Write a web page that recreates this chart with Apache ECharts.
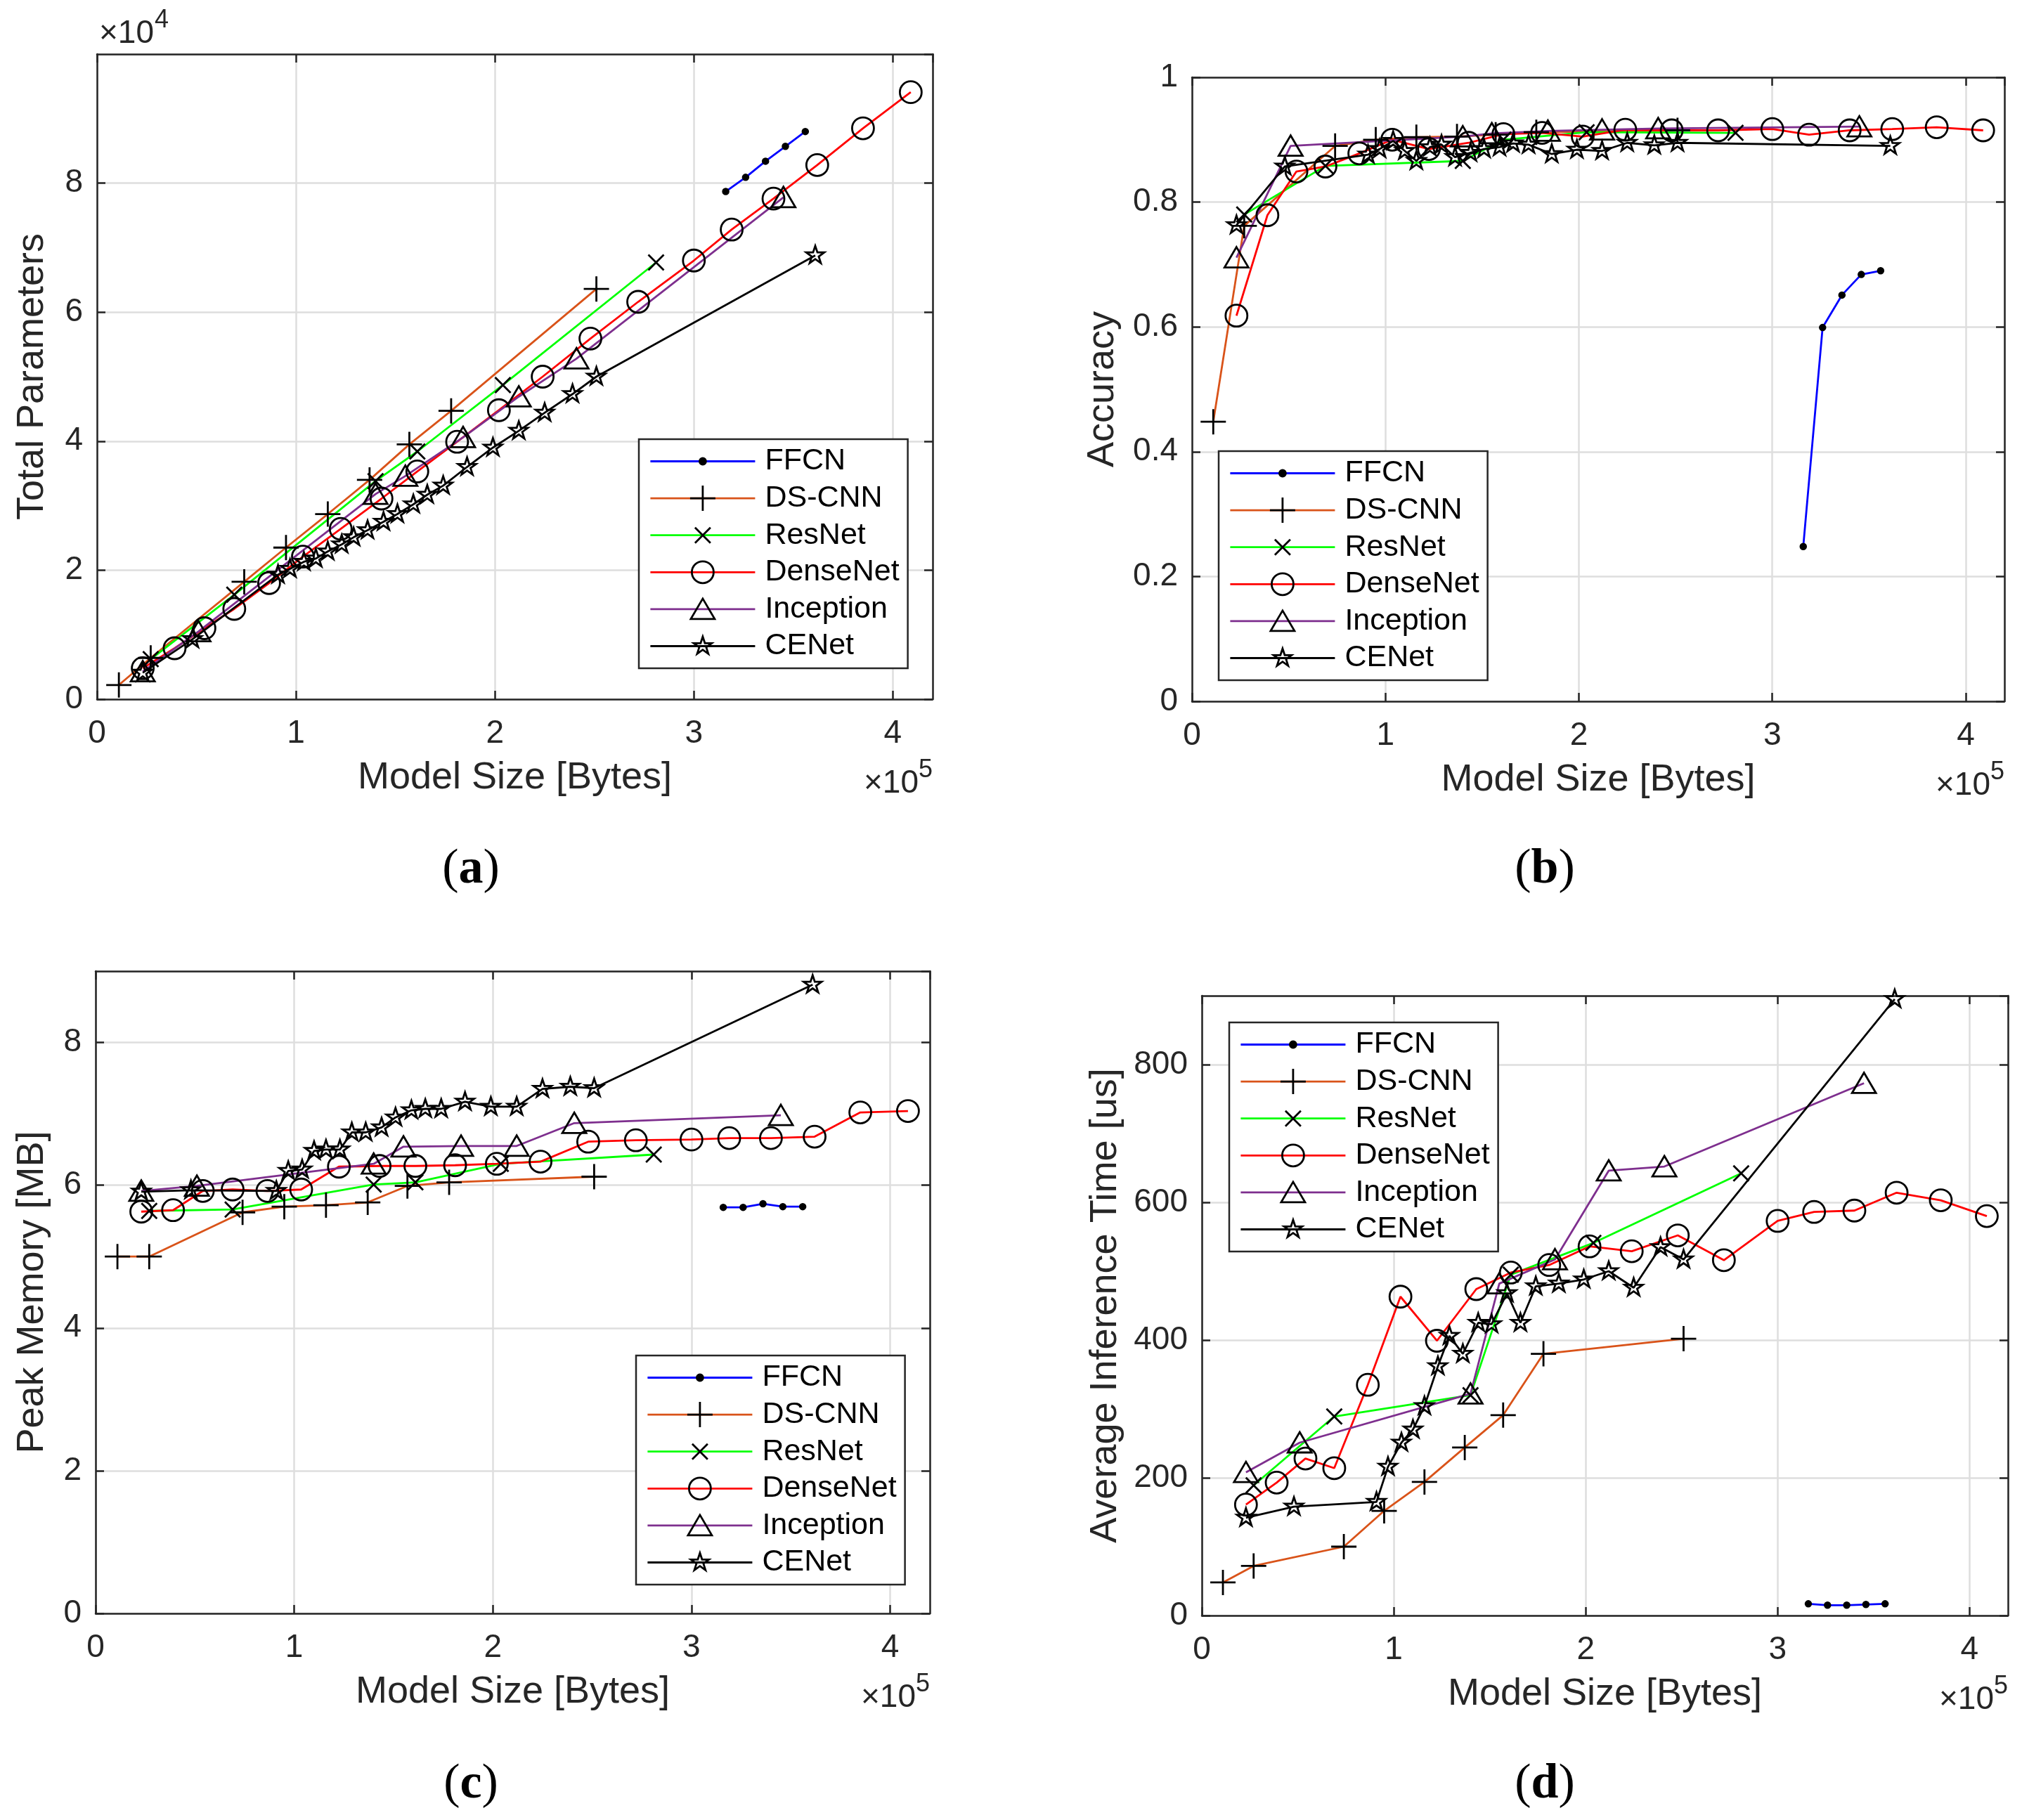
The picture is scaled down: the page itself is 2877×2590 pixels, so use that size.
<!DOCTYPE html>
<html lang="en">
<head>
<meta charset="UTF-8">
<title>Model size vs. parameters, accuracy, memory, time</title>
<style>
    html, body { margin: 0; padding: 0; background: #fff; }
    #chart { width: 2877px; height: 2590px; }
</style>
</head>
<body>
<div id="chart"></div>
<script src="https://cdn.jsdelivr.net/npm/echarts@6/dist/echarts.min.js"></script>
<script>
// model size, x 1e5 bytes (shared by all four panels)
var ffcnSize      = [3.16, 3.26, 3.36, 3.46, 3.56];
var dscnnSize     = [0.11, 0.27, 0.74, 0.95, 1.16, 1.37, 1.57, 1.78, 2.51];
var resnetSize    = [0.27, 0.69, 1.40, 1.61, 2.04, 2.81];
var densenetSize  = [0.23, 0.39, 0.54, 0.69, 0.865, 1.035, 1.225, 1.43, 1.61, 1.81, 2.02, 2.24, 2.48, 2.72, 3.00, 3.19, 3.40, 3.62, 3.85, 4.09];
var inceptionSize = [0.23, 0.51, 1.40, 1.55, 1.84, 2.12, 2.41, 3.45];
var cenetSize     = [0.23, 0.48, 0.91, 0.97, 1.04, 1.10, 1.16, 1.23, 1.29, 1.36, 1.44, 1.51, 1.59, 1.66, 1.74, 1.86, 1.99, 2.12, 2.25, 2.39, 2.51, 3.61];

// (a) total parameters, x 1e4
var ffcnParams      = [7.87, 8.09, 8.34, 8.57, 8.80];
var dscnnParams     = [0.22, 0.64, 1.82, 2.35, 2.87, 3.40, 3.95, 4.47, 6.36];
var resnetParams    = [0.62, 1.62, 3.38, 3.84, 4.87, 6.77];
var densenetParams  = [0.48, 0.79, 1.10, 1.40, 1.80, 2.21, 2.64, 3.11, 3.53, 3.99, 4.48, 5.00, 5.59, 6.16, 6.80, 7.28, 7.76, 8.28, 8.85, 9.41];
var inceptionParams = [0.43, 1.05, 3.18, 3.46, 4.06, 4.69, 5.28, 7.78];
var cenetParams     = [0.41, 0.93, 1.93, 2.02, 2.13, 2.18, 2.29, 2.40, 2.51, 2.62, 2.75, 2.87, 3.02, 3.17, 3.31, 3.60, 3.90, 4.16, 4.44, 4.73, 5.00, 6.88];

// (b) accuracy
var ffcnAcc      = [0.248, 0.599, 0.651, 0.684, 0.690];
var dscnnAcc     = [0.448, 0.762, 0.890, 0.900, 0.904, 0.905, 0.908, 0.912, 0.915];
var resnetAcc    = [0.780, 0.858, 0.866, 0.900, 0.912, 0.911];
var densenetAcc  = [0.618, 0.779, 0.849, 0.857, 0.878, 0.900, 0.885, 0.895, 0.909, 0.911, 0.905, 0.916, 0.915, 0.915, 0.917, 0.908, 0.915, 0.917, 0.920, 0.915];
var inceptionAcc = [0.711, 0.890, 0.905, 0.910, 0.914, 0.916, 0.918, 0.921];
var cenetAcc     = [0.763, 0.857, 0.876, 0.885, 0.898, 0.882, 0.866, 0.888, 0.892, 0.872, 0.879, 0.885, 0.888, 0.894, 0.892, 0.877, 0.884, 0.882, 0.895, 0.891, 0.895, 0.890];

// (c) peak memory, MB
var ffcnMem      = [5.69, 5.69, 5.74, 5.70, 5.70];
var dscnnMem     = [5.00, 5.00, 5.62, 5.70, 5.72, 5.76, 5.99, 6.04, 6.12];
var resnetMem    = [5.64, 5.66, 6.01, 6.04, 6.30, 6.43];
var densenetMem  = [5.63, 5.65, 5.92, 5.94, 5.92, 5.94, 6.26, 6.27, 6.27, 6.28, 6.30, 6.33, 6.61, 6.63, 6.64, 6.66, 6.66, 6.68, 7.02, 7.04];
var inceptionMem = [5.92, 5.99, 6.30, 6.54, 6.55, 6.55, 6.87, 6.98];
var cenetMem     = [5.91, 5.93, 5.92, 6.20, 6.22, 6.48, 6.50, 6.50, 6.74, 6.74, 6.81, 6.95, 7.05, 7.07, 7.07, 7.17, 7.10, 7.10, 7.35, 7.38, 7.36, 8.81];

// (d) average inference time, us
var ffcnTime      = [17, 15, 15, 16, 17];
var dscnnTime     = [48, 72, 100, 152, 194, 244, 291, 380, 402];
var resnetTime    = [189, 289, 320, 495, 541, 642];
var densenetTime  = [161, 193, 228, 214, 335, 463, 399, 474, 498, 509, 536, 529, 552, 516, 573, 586, 588, 614, 603, 580];
var inceptionTime = [208, 251, 322, 482, 517, 646, 652, 773];
var cenetTime     = [142, 158, 165, 216, 251, 270, 304, 362, 406, 380, 425, 423, 468, 425, 478, 482, 488, 500, 476, 535, 517, 895];

var xTicks = { min: 0, max: 4.2, step: 1 };
</script>
<script>
var FONT = "'Liberation Sans', Arial, sans-serif";
var SERIF = "'Liberation Serif', 'DejaVu Serif', serif";
var INK = '#262626';
var GRID = '#dedede';

// marker shapes, all drawn inside the same 36x36 frame so one symbolSize fits all
var FRAME = 'M-18,-18 M18,18 ';
function ring(r) {
    return 'M' + r + ',0 A' + r + ',' + r + ' 0 1,1 -' + r + ',0 A' + r + ',' + r + ' 0 1,1 ' + r + ',0 Z';
}
function star(R, r) {
    var d = [];
    for (var k = 0; k < 10; k++) {
        var rad = k % 2 ? r : R;
        var a = -Math.PI / 2 + k * Math.PI / 5;
        d.push((k ? 'L' : 'M') + (rad * Math.cos(a)).toFixed(2) + ',' + (rad * Math.sin(a)).toFixed(2));
    }
    return d.join(' ') + ' Z';
}
var dotSymbol = 'path://' + FRAME + ring(4.5);
var plusSymbol = 'path://' + FRAME + 'M-18,0 L18,0 M0,-18 L0,18';
var crossSymbol = 'path://' + FRAME + 'M-11,-11 L11,11 M-11,11 L11,-11';
var circleSymbol = 'path://' + FRAME + ring(15.5);
var triangleSymbol = 'path://' + FRAME + 'M0,-15 L17,14 L-17,14 Z';
var starSymbol = 'path://' + FRAME + star(13.5, 5.2);

var models = [
    {name: 'FFCN', color: '#0000ff', symbol: dotSymbol, fill: '#000', size: ffcnSize,
        values: [ffcnParams, ffcnAcc, ffcnMem, ffcnTime]},
    {name: 'DS-CNN', color: '#d95319', symbol: plusSymbol, size: dscnnSize,
        values: [dscnnParams, dscnnAcc, dscnnMem, dscnnTime]},
    {name: 'ResNet', color: '#00ff00', symbol: crossSymbol, size: resnetSize,
        values: [resnetParams, resnetAcc, resnetMem, resnetTime]},
    {name: 'DenseNet', color: '#ff0000', symbol: circleSymbol, size: densenetSize,
        values: [densenetParams, densenetAcc, densenetMem, densenetTime]},
    {name: 'Inception', color: '#7e2f8e', symbol: triangleSymbol, size: inceptionSize,
        values: [inceptionParams, inceptionAcc, inceptionMem, inceptionTime]},
    {name: 'CENet', color: '#000000', symbol: starSymbol, size: cenetSize,
        values: [cenetParams, cenetAcc, cenetMem, cenetTime]}
];

var panels = [
    {left: 138, top: 77, width: 1189, height: 918, yMax: 10, yStep: 2, yName: 'Total Parameters',
        yGap: 65, yExp: '4', legend: [909, 625], caption: 'a', capPos: [670, 1238]},
    {left: 1696, top: 110, width: 1156, height: 888, yMax: 1, yStep: 0.2, yName: 'Accuracy',
        yGap: 100, yExp: null, legend: [1734, 642], caption: 'b', capPos: [2198, 1238]},
    {left: 136, top: 1382, width: 1187, height: 914, yMax: 9, yStep: 2, yName: 'Peak Memory [MB]',
        yGap: 63, yExp: null, legend: [905, 1929], caption: 'c', capPos: [670, 2540]},
    {left: 1710, top: 1417, width: 1147, height: 882, yMax: 900, yStep: 200, yName: 'Average Inference Time [us]',
        yGap: 110, yExp: null, legend: [1749, 1455], caption: 'd', capPos: [2198, 2540]}
];

var measureCtx = document.createElement('canvas').getContext('2d');
function textWidth(str, size) {
    measureCtx.font = size + 'px ' + FONT;
    return measureCtx.measureText(str).width;
}

function zip(xs, ys) {
    return xs.map(function (x, i) { return [x, ys[i]]; });
}

function axisCommon(main) {
    return {
        type: 'value',
        axisLine: {show: true, onZero: false, lineStyle: {color: INK, width: 2.5}},
        axisTick: {show: true, inside: true, length: 12, lineStyle: {color: INK, width: 2.5}},
        axisLabel: {show: main, fontSize: 46, color: INK, fontFamily: FONT, showMaxLabel: false},
        splitLine: {show: main, lineStyle: {color: GRID, width: 2.5}},
        nameTextStyle: {fontSize: 54, color: INK, fontFamily: FONT}
    };
}

var grids = [], xAxes = [], yAxes = [], series = [], legends = [], graphics = [];

panels.forEach(function (p, i) {
    grids.push({left: p.left, top: p.top, width: p.width, height: p.height, containLabel: false});

    ['bottom', 'top'].forEach(function (pos) {
        var main = pos === 'bottom';
        var ax = axisCommon(main);
        ax.gridIndex = i;
        ax.position = pos;
        ax.min = xTicks.min;
        ax.max = xTicks.max;
        ax.interval = xTicks.step;
        ax.axisLabel.margin = 26;
        if (main) {
            ax.name = 'Model Size [Bytes]';
            ax.nameLocation = 'middle';
            ax.nameGap = 85;
        }
        xAxes.push(ax);
    });

    ['left', 'right'].forEach(function (pos) {
        var main = pos === 'left';
        var ax = axisCommon(main);
        ax.gridIndex = i;
        ax.position = pos;
        ax.min = 0;
        ax.max = p.yMax;
        ax.interval = p.yStep;
        ax.axisLabel.margin = 20;
        // only the accuracy axis ends on a labelled tick
        ax.axisLabel.showMaxLabel = p.yMax === 1;
        if (main) {
            ax.name = p.yName;
            ax.nameLocation = 'middle';
            ax.nameGap = p.yGap;
        }
        yAxes.push(ax);
    });

    models.forEach(function (m) {
        series.push({
            type: 'line',
            name: m.name,
            xAxisIndex: 2 * i,
            yAxisIndex: 2 * i,
            data: zip(m.size, m.values[i]),
            symbol: m.symbol,
            symbolSize: 36,
            symbolKeepAspect: true,
            showAllSymbol: true,
            lineStyle: {color: m.color, width: 2.8},
            itemStyle: {
                color: m.fill || 'rgba(0,0,0,0)',
                borderColor: '#000',
                borderWidth: m.fill ? 1.5 : 2.8
            },
            emphasis: {disabled: true},
            animation: false
        });
    });

    legends.push({
        orient: 'vertical',
        left: p.legend[0],
        top: p.legend[1],
        data: models.map(function (m) { return m.name; }),
        itemWidth: 149,
        itemHeight: 45,
        itemGap: 9.6,
        padding: [10, 12, 10, 15],
        borderColor: INK,
        borderWidth: 2.5,
        backgroundColor: '#fff',
        selectedMode: false,
        lineStyle: {width: 2.8},
        itemStyle: {borderWidth: 2.8},
        textStyle: {fontSize: 43, color: '#000', fontFamily: FONT, padding: [0, 0, 0, 9]},
        z: 10
    });

    // x10^5 factor under the x axis
    var supW = textWidth('5', 36);
    graphics.push({type: 'text', x: p.left + p.width - supW, y: p.top + p.height + 120,
        style: {text: '\u00d710', fontSize: 46, fontFamily: FONT, fill: INK, align: 'right', verticalAlign: 'middle'}});
    graphics.push({type: 'text', x: p.left + p.width, y: p.top + p.height + 101,
        style: {text: '5', fontSize: 36, fontFamily: FONT, fill: INK, align: 'right', verticalAlign: 'middle'}});

    if (p.yExp) {
        var w = textWidth('\u00d710', 46);
        graphics.push({type: 'text', x: p.left + 3, y: p.top - 29,
            style: {text: '\u00d710', fontSize: 46, fontFamily: FONT, fill: INK, align: 'left', verticalAlign: 'middle'}});
        graphics.push({type: 'text', x: p.left + 3 + w + 1, y: p.top - 48,
            style: {text: p.yExp, fontSize: 36, fontFamily: FONT, fill: INK, align: 'left', verticalAlign: 'middle'}});
    }

    graphics.push({type: 'text', x: p.capPos[0], y: p.capPos[1],
        style: {
            text: '{p|(}{b|' + p.caption + '}{p|)}',
            align: 'center', verticalAlign: 'middle',
            rich: {
                p: {fontSize: 70, fontFamily: SERIF, fill: '#000'},
                b: {fontSize: 70, fontFamily: SERIF, fontWeight: 'bold', fill: '#000'}
            }
        }});
});

var chart = echarts.init(document.getElementById('chart'), null, {renderer: 'canvas'});
chart.setOption({
    animation: false,
    backgroundColor: '#fff',
    textStyle: {fontFamily: FONT},
    grid: grids,
    xAxis: xAxes,
    yAxis: yAxes,
    legend: legends,
    series: series,
    graphic: {elements: graphics}
});
</script>
</body>
</html>
